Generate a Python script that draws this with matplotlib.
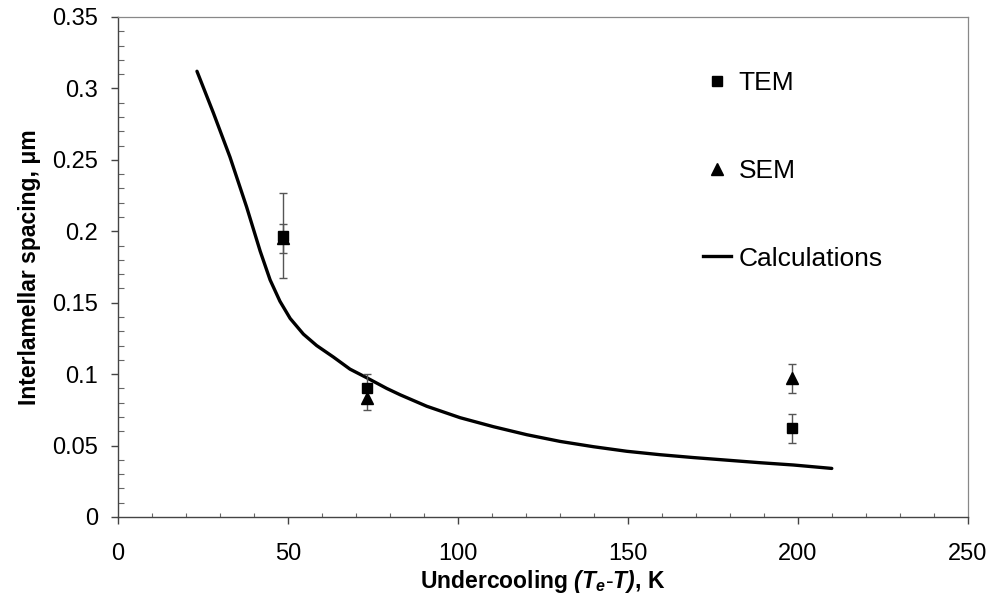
import matplotlib.pyplot as plt
from matplotlib.lines import Line2D
from matplotlib.ticker import MultipleLocator

plt.rcParams['font.family'] = ['Liberation Sans', 'DejaVu Sans']
plt.rcParams['mathtext.fontset'] = 'custom'
plt.rcParams['mathtext.rm'] = 'Liberation Sans'
plt.rcParams['mathtext.it'] = 'Liberation Sans:italic'
plt.rcParams['mathtext.bf'] = 'Liberation Sans:bold'
plt.rcParams['mathtext.bfit'] = 'Liberation Sans:bold:italic'

# measured points
tem_x = [48.5, 73.2, 198.2]
tem_y = [0.197, 0.090, 0.062]
tem_err = [0.030, 0.010, 0.010]

sem_x = [48.5, 73.2, 198.2]
sem_y = [0.195, 0.083, 0.097]
sem_err = [0.010, 0.008, 0.010]

# calculated curve
calc_x = [23.3, 28.1, 33.0, 37.9, 41.9, 44.8, 47.7, 50.7, 54.6, 58.5, 63.4, 68.3,
          73.2, 79.1, 83.1, 90.9, 100.7, 110.5, 120.3, 130.1, 139.9, 149.7,
          159.5, 169.3, 179.1, 188.9, 198.7, 210.0]
calc_y = [0.312, 0.283, 0.252, 0.217, 0.186, 0.166, 0.151, 0.139, 0.128, 0.120,
          0.112, 0.1035, 0.0975, 0.090, 0.0855, 0.0775, 0.0695, 0.0632, 0.0576,
          0.0529, 0.0492, 0.0460, 0.0436, 0.0416, 0.0398, 0.0380, 0.0364, 0.034]

fig = plt.figure(figsize=(9.92, 6.02), dpi=100)
ax = fig.add_axes([0.1187, 0.1412, 0.8569, 0.8306])

ax.plot(calc_x, calc_y, color='black', lw=2.4, solid_capstyle='round',
        solid_joinstyle='round')

ax.errorbar(sem_x, sem_y, yerr=sem_err, fmt='^', color='black', ms=8,
            ecolor='#555555', elinewidth=1, capsize=3, capthick=1)
ax.errorbar(tem_x, tem_y, yerr=tem_err, fmt='s', color='black', ms=7.5,
            ecolor='#555555', elinewidth=1, capsize=3, capthick=1)

ax.set_xlim(0, 250)
ax.set_ylim(0, 0.35)
ax.xaxis.set_major_locator(MultipleLocator(50))
ax.xaxis.set_minor_locator(MultipleLocator(10))
ax.yaxis.set_minor_locator(MultipleLocator(0.01))
ax.set_yticks([0, 0.05, 0.1, 0.15, 0.2, 0.25, 0.3, 0.35])
ax.set_yticklabels(['0', '0.05', '0.1', '0.15', '0.2', '0.25', '0.3', '0.35'])

ax.tick_params(which='major', direction='out', length=5, width=1, labelsize=17,
               color='#444444')
ax.tick_params(axis='x', which='major', pad=14)
ax.tick_params(axis='y', which='major', pad=9)
ax.tick_params(axis='x', which='minor', direction='in', length=3, width=0.8,
               color='#666666')
ax.tick_params(axis='y', which='minor', direction='in', length=4.5, width=0.8,
               color='#666666')
for side in ['top', 'right']:
    ax.spines[side].set_color('#888888')
    ax.spines[side].set_linewidth(0.9)
for side in ['left', 'bottom']:
    ax.spines[side].set_color('#444444')
    ax.spines[side].set_linewidth(1)

ax.set_xlabel(r'Undercooling $\mathbfit{(T_e\text{-}T)}$, K', fontsize=16.5,
              fontweight='bold', labelpad=2)
ax.set_ylabel('Interlamellar spacing, μm', fontsize=16.5, fontweight='bold',
              labelpad=8)

handles = [
    Line2D([], [], ls='none', marker='s', color='black', ms=7),
    Line2D([], [], ls='none', marker='^', color='black', ms=8),
    Line2D([], [], color='black', lw=2.4),
]
ax.legend(handles, ['TEM', 'SEM', 'Calculations'], loc='upper left',
          bbox_to_anchor=(0.689, 0.892), frameon=False, fontsize=19,
          labelspacing=2.42, handlelength=1.06, handletextpad=0.27,
          borderpad=0, borderaxespad=0)

fig.savefig('out.png', dpi=100)
